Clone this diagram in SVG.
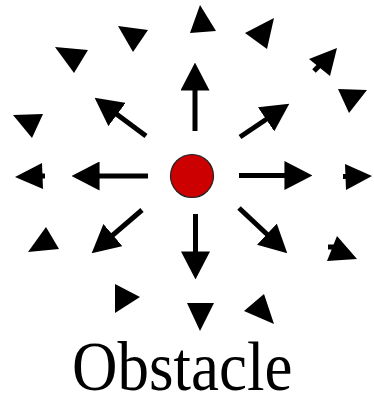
<svg xmlns="http://www.w3.org/2000/svg" width="374" height="397" viewBox="0 0 374 397">
<defs>
<style>
.shaft{stroke:#000;stroke-width:5;fill:none;marker-end:url(#head)}
.tri{fill:#000}
.stub{stroke:#000;stroke-width:5}
.label{font-family:"Liberation Serif","Times New Roman",serif;font-size:63px;fill:#000}
</style>
<marker id="head" markerUnits="userSpaceOnUse" markerWidth="28" markerHeight="29" viewBox="0 0 27 28" refX="15" refY="14" orient="auto">
<path d="M0,0 L27,14 L0,28 Z" fill="#000"/>
</marker>
</defs>
<rect width="374" height="397" fill="#fff"/>
<g id="connectors">
<line class="shaft" x1="195" y1="131" x2="195" y2="75"/>
<line class="shaft" x1="195.5" y1="214" x2="195.5" y2="267"/>
<line class="shaft" x1="148" y1="176" x2="84" y2="176"/>
<line class="shaft" x1="239" y1="175.5" x2="300" y2="175.5"/>
<line class="shaft" x1="146" y1="136" x2="104.6" y2="105.2"/>
<line class="shaft" x1="240" y1="137" x2="279" y2="110.7"/>
<line class="shaft" x1="142" y1="210" x2="101.1" y2="245.2"/>
<line class="shaft" x1="239" y1="208" x2="278.2" y2="244.8"/>
</g>
<g id="field">
<polygon class="tri" points="55,47 88,50 74,73"/>
<polygon class="tri" points="118,26 148,30 133,52"/>
<polygon class="tri" points="200,5 216,31 190,33"/>
<polygon class="tri" points="245,33 274,18 267,49"/>
<polygon class="tri" points="337,48 309,59 330,76"/>
<line class="stub" x1="314" y1="71" x2="319" y2="66"/>
<polygon class="tri" points="338,89 367,90 349,113"/>
<polygon class="tri" points="13,115 43,114 32,138"/>
<polygon class="tri" points="15,177 42,163 43,189"/>
<line class="stub" x1="40" y1="176" x2="45" y2="176"/>
<polygon class="tri" points="46,227 59,249 28,252"/>
<polygon class="tri" points="372,176 345,164 346,190"/>
<line class="stub" x1="343" y1="176.5" x2="348" y2="176.5"/>
<polygon class="tri" points="337,236 357,259 327,261"/>
<line class="stub" x1="328" y1="247" x2="335" y2="247"/>
<polygon class="tri" points="140,297 115,284 115,313"/>
<polygon class="tri" points="187,303 214,303 200,331"/>
<polygon class="tri" points="244,311 264,294 274,324"/>
</g>
<g id="obstacle">
<circle cx="192" cy="176" r="21.5" fill="#cc0000" stroke="#222" stroke-width="1.2"/>
</g>
<g id="caption">
<text class="label" transform="translate(72,390) scale(1,1.12)">Obstacle</text>
</g>
</svg>
